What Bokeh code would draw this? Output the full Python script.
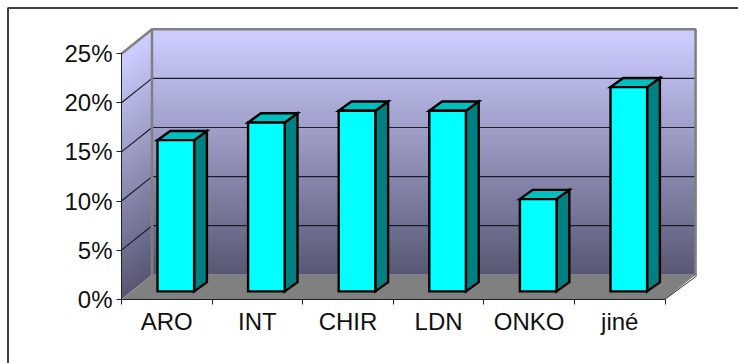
from bokeh.embed import file_html
from bokeh.resources import INLINE
from bokeh.models import BoxAnnotation, FixedTicker, PrintfTickFormatter, Range1d
from bokeh.plotting import figure

# Department shares, in percent
categories = ["ARO", "INT", "CHIR", "LDN", "ONKO", "jiné"]
shares = [15.4, 17.2, 18.4, 18.4, 9.4, 20.8]
value_ticks = [0, 5, 10, 15, 20, 25]

WIDTH, HEIGHT = 738, 363
LEFT, BASE = 121.0, 298.7          # canvas position of the front axis corner
PX_X, PX_Y = 90.6, 9.82            # pixels per category / per percent point
Y_TOP = 25.0

# Oblique projection: depth of the chart box and of the bars, in data units
BOX_DX, BOX_DY = 30.5 / PX_X, 24.4 / PX_Y
BAR_DX, BAR_DY = 12.8 / PX_X, 9.2 / PX_Y
BAR_W = 36.6 / PX_X
BAR_OFFSET_X, BAR_OFFSET_Y = 36.0 / PX_X, 7.8 / PX_Y

# The frame fills the page; both axes are pinned at the front corner
p = figure(
    width=WIDTH, height=HEIGHT, output_backend="svg", toolbar_location=None,
    x_range=Range1d(-LEFT / PX_X, (WIDTH - LEFT) / PX_X),
    y_range=Range1d(-(HEIGHT - BASE) / PX_Y, BASE / PX_Y),
    min_border_left=0, min_border_right=0, min_border_top=0, min_border_bottom=0,
    outline_line_color=None, background_fill_color="white", border_fill_color="white",
)
p.grid.visible = False


def shade(t):
    """Wall colour at height t (0 floor level, 1 top of the wall)."""
    low, high = (0x58, 0x58, 0x74), (0xCC, 0xCC, 0xFF)
    k = min(1.0, t / 0.97)
    return "#%02x%02x%02x" % tuple(round(a + (b - a) * k) for a, b in zip(low, high))


# Back wall and left wall: bands painted bottom-up, each reaching the wall top
BANDS = 125
for i in range(BANDS):
    t0 = i / BANDS
    y0 = t0 * Y_TOP
    p.patch(
        [BOX_DX, 6 + BOX_DX, 6 + BOX_DX, BOX_DX],
        [y0 + BOX_DY, y0 + BOX_DY, Y_TOP + BOX_DY, Y_TOP + BOX_DY],
        fill_color=shade(t0), line_color=None,
    )
    p.patch(
        [0, BOX_DX, BOX_DX, 0],
        [y0, y0 + BOX_DY, Y_TOP + BOX_DY, Y_TOP],
        fill_color=shade(t0), line_color=None,
    )

# Floor
p.patch([0, 6, 6 + BOX_DX, BOX_DX], [0, 0, BOX_DY, BOX_DY], fill_color="#808080", line_color=None)
p.line([6, 6 + BOX_DX], [0, BOX_DY * 0.92], line_color="#303030", line_width=1)

# Gridlines across both walls
for v in value_ticks[1:-1]:
    p.line([0, BOX_DX, 6 + BOX_DX], [v, v + BOX_DY, v + BOX_DY], line_color="#1c1c2c", line_width=1.2)

# Grey edges of the chart box
p.line([0, BOX_DX, 6 + BOX_DX, 6 + BOX_DX],
       [Y_TOP, Y_TOP + BOX_DY, Y_TOP + BOX_DY, BOX_DY * 0.92],
       line_color="#808080", line_width=2.5)
p.line([BOX_DX, BOX_DX], [Y_TOP + BOX_DY, BOX_DY], line_color="#808080", line_width=2.5)

# Bars: side, top and front faces
for i, v in enumerate(shares):
    x0 = i + BAR_OFFSET_X
    x1 = x0 + BAR_W
    y0 = BAR_OFFSET_Y
    y1 = y0 + v
    outline = dict(line_color="black", line_width=2.4, line_join="miter")
    p.patch([x1, x1 + BAR_DX, x1 + BAR_DX, x1], [y0, y0 + BAR_DY, y1 + BAR_DY, y1], fill_color="#008080", **outline)
    p.patch([x0, x1, x1 + BAR_DX, x0 + BAR_DX], [y1, y1, y1 + BAR_DY, y1 + BAR_DY], fill_color="#00BFBF", **outline)
    p.patch([x0, x1, x1, x0], [y0, y0, y1, y1], fill_color="#00FFFF", **outline)

# Value axis on the front-left edge
p.yaxis.fixed_location = 0
p.yaxis.bounds = (0, Y_TOP)
p.yaxis.ticker = FixedTicker(ticks=value_ticks)
p.yaxis.formatter = PrintfTickFormatter(format="%d%%")
p.yaxis.axis_line_color = "#202020"
p.yaxis.axis_line_width = 1
p.yaxis.major_tick_line_color = "#202020"
p.yaxis.major_tick_in = 0
p.yaxis.major_tick_out = 5
p.yaxis.minor_tick_line_color = None
p.yaxis.major_label_standoff = 4
p.yaxis.major_label_text_font = "Liberation Sans"
p.yaxis.major_label_text_font_size = "24px"
p.yaxis.major_label_text_color = "#111111"

# Category axis: labels sit at the centres, tick marks at the category edges
centres = [i + 0.5 for i in range(len(categories))]
p.xaxis.fixed_location = 0
p.xaxis.bounds = (0, len(categories))
p.xaxis.ticker = FixedTicker(ticks=centres, minor_ticks=list(range(len(categories) + 1)))
p.xaxis.major_label_overrides = dict(zip(centres, categories))
p.xaxis.axis_line_color = "#202020"
p.xaxis.axis_line_width = 1
p.xaxis.major_tick_line_color = None
p.xaxis.minor_tick_line_color = "#202020"
p.xaxis.minor_tick_in = 0
p.xaxis.minor_tick_out = 5
p.xaxis.major_label_standoff = 3
p.xaxis.major_label_text_font = "Liberation Sans"
p.xaxis.major_label_text_font_size = "24px"
p.xaxis.major_label_text_color = "#111111"

# Chart area border, running off the right and bottom of the page
p.add_layout(BoxAnnotation(
    left=7.5, right=WIDTH + 20, top=7.5, bottom=HEIGHT + 20,
    left_units="canvas", right_units="canvas", top_units="canvas", bottom_units="canvas",
    fill_color=None, fill_alpha=0, line_color="#404040", line_alpha=1, line_width=2, level="overlay",
))

open("out.html", "w").write(file_html(p, INLINE))
